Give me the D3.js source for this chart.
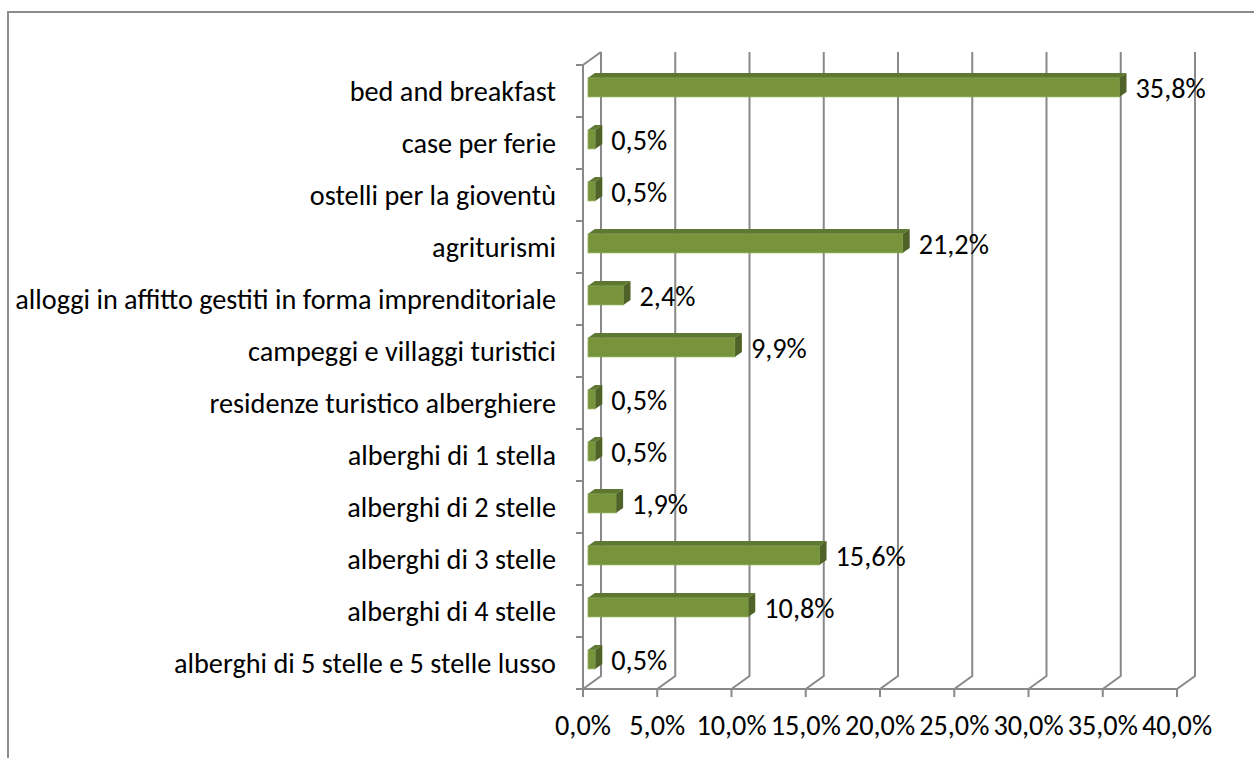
<!DOCTYPE html>
<html lang="it">
<head>
<meta charset="UTF-8">
<title>Strutture ricettive</title>
<style>
  body { margin: 0; background: #fff; }
  text { font-family: Carlito, Lato, "DejaVu Sans", sans-serif; fill: #000; }
</style>
</head>
<body>
<svg id="chart" width="1254" height="758"></svg>
<script src="https://d3js.org/d3.v7.min.js"></script>
<script>
// data, top to bottom
var categories = [
    "bed and breakfast",
    "case per ferie",
    "ostelli per la gioventù",
    "agriturismi",
    "alloggi in affitto gestiti in forma imprenditoriale",
    "campeggi e villaggi turistici",
    "residenze turistico alberghiere",
    "alberghi di 1 stella",
    "alberghi di 2 stelle",
    "alberghi di 3 stelle",
    "alberghi di 4 stelle",
    "alberghi di 5 stelle e 5 stelle lusso"
];
var values = [35.8, 0.5, 0.5, 21.2, 2.4, 9.9, 0.5, 0.5, 1.9, 15.6, 10.8, 0.5];
var xTicks = [0, 5, 10, 15, 20, 25, 30, 35, 40];

var svg = d3.select("#chart");

// 3d depth of the plot box
var DX = 18, DY = -13;
var f0 = 0.28, f1 = 0.66;   // bar front / back depth
var barH = 19;
var gridColor = "#898989";

var x = d3.scaleLinear().domain([0, 40]).range([583, 1177]);
var y = d3.scaleBand().domain(categories).range([65, 689]);

var fmt = function(v) { return d3.format(".1f")(v).replace(".", ",") + "%"; };

// outer frame (cut by the window on right and bottom)
svg.append("path")
   .attr("d", "M8,760 L8,12 L1256,12")
   .attr("fill", "none")
   .attr("stroke", "#8c8c8c")
   .attr("stroke-width", 2);

var grid = svg.append("g")
    .attr("stroke", gridColor)
    .attr("stroke-width", 2)
    .attr("fill", "none");

var y0 = y.range()[0], y1 = y.range()[1];

// back wall gridlines + floor diagonals
xTicks.forEach(function(t) {
    grid.append("path")
        .attr("d", "M" + x(t) + "," + y1 + " L" + (x(t) + DX) + "," + (y1 + DY) +
                   " L" + (x(t) + DX) + "," + (y0 + DY));
});

// left wall
grid.append("path")
    .attr("d", "M" + x(0) + "," + y1 + " L" + x(0) + "," + y0 + " L" + (x(0) + DX) + "," + (y0 + DY));

// floor front edge
grid.append("line")
    .attr("x1", x(0)).attr("x2", x(40))
    .attr("y1", y1).attr("y2", y1);

// x ticks
xTicks.forEach(function(t) {
    grid.append("line")
        .attr("x1", x(t)).attr("x2", x(t))
        .attr("y1", y1).attr("y2", y1 + 8);
});

// y ticks
var yEdges = categories.map(function(c) { return y(c); }).concat([y1]);
yEdges.forEach(function(e) {
    grid.append("line")
        .attr("x1", x(0) - 7).attr("x2", x(0))
        .attr("y1", e).attr("y2", e);
});

// x tick labels
svg.append("g").selectAll("text")
   .data(xTicks)
   .enter().append("text")
   .attr("class", "tick")
   .attr("x", function(d) { return x(d); })
   .attr("y", 725)
   .attr("dy", "0.35em")
   .attr("text-anchor", "middle")
   .text(fmt);

// category labels
svg.append("g").selectAll("text")
   .data(categories)
   .enter().append("text")
   .attr("class", "cat")
   .attr("x", 556)
   .attr("y", function(d) { return y(d) + y.bandwidth() / 2; })
   .attr("dy", "0.35em")
   .attr("text-anchor", "end")
   .text(function(d) { return d; });

// bars
var bars = svg.append("g");
categories.forEach(function(c, i) {
    var v = values[i];
    var xa = x(0) + f0 * DX, xb = x(v) + f0 * DX;
    var cy = y(c) + y.bandwidth() / 2 + f0 * DY;
    var top = cy - barH / 2, bot = cy + barH / 2;
    var ddx = (f1 - f0) * DX, ddy = (f1 - f0) * DY;
    var g = bars.append("g");
    g.append("rect")
     .attr("x", xa).attr("y", top)
     .attr("width", xb - xa).attr("height", barH)
     .attr("fill", "#77933c")
     .attr("stroke", "#8aa64e").attr("stroke-width", 0.8);
    g.append("polygon")
     .attr("points", [[xa, top], [xa + ddx, top + ddy], [xb + ddx, top + ddy], [xb, top]].join(" "))
     .attr("fill", "#5f7830");
    g.append("polygon")
     .attr("points", [[xb, top], [xb + ddx, top + ddy], [xb + ddx, bot + ddy], [xb, bot]].join(" "))
     .attr("fill", "#4f6228");
    svg.append("text")
       .attr("class", "val")
       .attr("x", xb + ddx + 9)
       .attr("y", cy + 1)
       .attr("dy", "0.35em")
       .text(fmt(v));
});

// size the text so the longest category label spans like the reference
var longest = svg.selectAll("text.cat").filter(function(d) { return d === categories[4]; });
longest.style("font-size", "20px");
var w = longest.node().getComputedTextLength();
var fs = 20 * 541 / w;
svg.selectAll("text").style("font-size", fs + "px");
</script>
</body>
</html>
